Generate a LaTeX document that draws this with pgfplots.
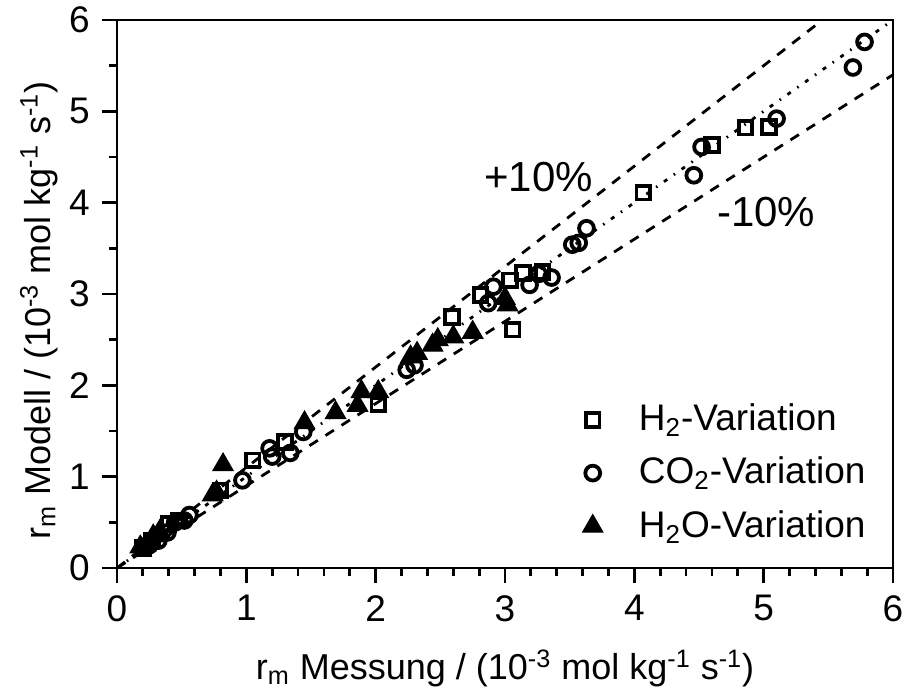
\documentclass[border=0pt]{standalone}
\usepackage{pgfplots}
\pgfplotsset{compat=1.18}
\usepackage{fontspec}
\setmainfont{Liberation Sans}

\begin{document}
\fontsize{18}{21}\selectfont
\begin{tikzpicture}
\begin{axis}[
  scale only axis, width=388pt, height=274pt,
  xmin=0, xmax=6, ymin=0, ymax=6,
  xtick={0,1,2,3,4,5,6}, ytick={0,1,2,3,4,5,6},
  minor x tick num=4, minor y tick num=1,
  tick align=outside, tick pos=left,
  major tick length=7.5pt, minor tick length=4pt,
  major tick style={line width=1.4pt, black},
  minor tick style={line width=1.4pt, black},
  axis line style={line width=1.4pt},
  /pgf/number format/assume math mode=true,
  ticklabel style={font=\fontsize{18.5}{21}\selectfont},
  xlabel={r\textsubscript{m} Messung / (10\textsuperscript{-3} mol kg\textsuperscript{-1} s\textsuperscript{-1})},
  ylabel={r\textsubscript{m} Modell / (10\textsuperscript{-3} mol kg\textsuperscript{-1} s\textsuperscript{-1})},
  xlabel style={at={(axis description cs:0.5,-0.204)}, anchor=base, font=\fontsize{18}{21}\selectfont},
  ylabel style={at={(axis description cs:-0.086,0.47)}, anchor=base, font=\fontsize{18}{21}\selectfont},
  legend style={draw=none, fill=none, at={(axis cs:3.55,1.89)}, anchor=north west,
    font=\fontsize{18.5}{21}\selectfont, row sep=6.5pt, column sep=16pt},
  legend cell align=left,
  clip=false,
]
\addplot[only marks, mark=square, mark size=3.4pt, line width=1.9pt, black]
coordinates {(0.20,0.22) (0.27,0.30) (0.40,0.48) (0.48,0.52) (0.80,0.85) (1.05,1.18) (1.30,1.38) (2.02,1.79) (2.59,2.75) (2.81,2.99) (3.04,3.15) (3.06,2.61) (3.14,3.23) (3.29,3.24) (4.07,4.11) (4.60,4.63) (4.86,4.82) (5.04,4.83)};
\addlegendentry{H\textsubscript{2}-Variation}
\addplot[only marks, mark=o, mark size=3.7pt, line width=1.9pt, black]
coordinates {(0.25,0.25) (0.32,0.30) (0.39,0.39) (0.45,0.50) (0.52,0.52) (0.56,0.58) (0.97,0.96) (1.18,1.31) (1.20,1.22) (1.34,1.26) (1.44,1.49) (2.24,2.17) (2.30,2.22) (2.87,2.90) (2.91,3.08) (3.19,3.10) (3.26,3.22) (3.36,3.18) (3.52,3.54) (3.57,3.56) (3.63,3.72) (4.46,4.30) (4.52,4.61) (5.10,4.92) (5.69,5.48) (5.78,5.76)};
\addlegendentry{CO\textsubscript{2}-Variation}
\addplot[only marks, mark=triangle*, mark size=5.9pt, line width=0.5pt, black]
coordinates {(0.18,0.23) (0.22,0.25) (0.28,0.35) (0.33,0.40) (0.74,0.80) (0.77,0.83) (0.82,1.13) (1.45,1.59) (1.69,1.70) (1.86,1.78) (1.89,1.93) (2.02,1.93) (2.27,2.31) (2.32,2.35) (2.44,2.44) (2.48,2.50) (2.60,2.53) (2.75,2.58) (3.00,2.95) (3.02,2.88)};
\addlegendentry{H\textsubscript{2}O-Variation}
\addplot[black, line width=1.4pt, dash pattern=on 5pt off 4.5pt, forget plot] coordinates {(0,0) (5.4545,6)};
\addplot[black, line width=1.4pt, dash pattern=on 5pt off 4.5pt, forget plot] coordinates {(0,0) (6,5.4)};
\addplot[black, line width=1.4pt, dash pattern=on 2pt off 4pt on 0.8pt off 4pt, forget plot] coordinates {(0,0) (6,6)};
\node[font=\fontsize{21}{24}\selectfont] at (axis cs:3.26,4.28) {+10\%};
\node[font=\fontsize{21}{24}\selectfont] at (axis cs:5.02,3.90) {-10\%};
\end{axis}
\pgfresetboundingbox
\path[use as bounding box] ([xshift=-58.5pt, yshift=-64pt]current axis.south west) rectangle ++(451.5pt,348pt);
\end{tikzpicture}
\end{document}
